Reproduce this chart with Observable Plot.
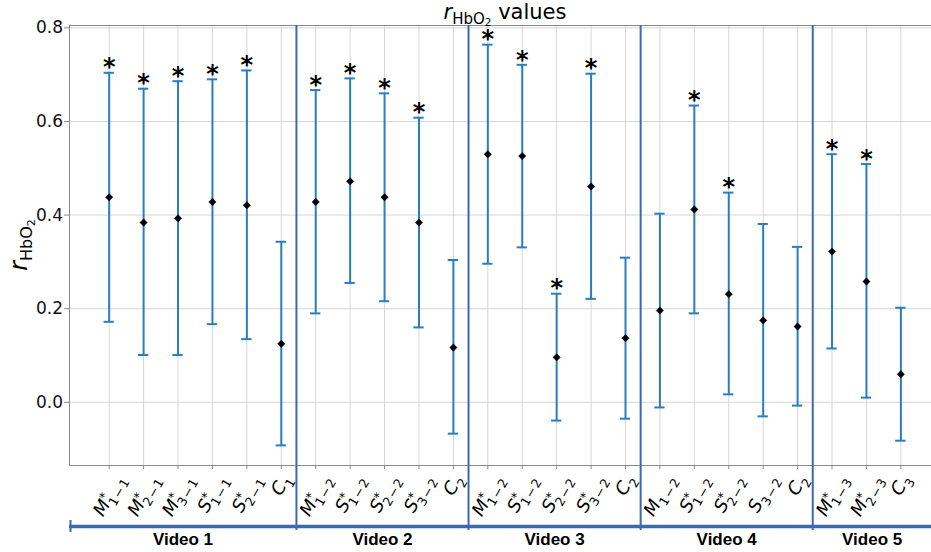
<!DOCTYPE html>
<html><head><meta charset="utf-8">
<script src="https://cdn.jsdelivr.net/npm/d3@7"></script>
<script src="https://cdn.jsdelivr.net/npm/@observablehq/plot@0.6"></script>
<style>body{margin:0;background:#fff} svg{display:block}</style>
</head><body><div id="chart"></div>
<script>
// ---- data ----
const groups = ["Video 1", "Video 2", "Video 3", "Video 4", "Video 5"];
const groupSizes = [6, 5, 5, 5, 3];
const labels = [
  "M*_1−1", "M*_2−1", "M*_3−1", "S*_1−1", "S*_2−1", "C_1",
  "M*_1−2", "S*_1−2", "S*_2−2", "S*_3−2", "C_2",
  "M*_1−2", "S*_1−2", "S*_2−2", "S*_3−2", "C_2",
  "M_1−2", "S*_1−2", "S*_2−2", "S_3−2", "C_2",
  "M*_1−3", "M*_2−3", "C_3"
];
const means = [0.438, 0.384, 0.393, 0.428, 0.421, 0.125,
  0.428, 0.472, 0.438, 0.384, 0.117,
  0.530, 0.526, 0.096, 0.461, 0.137,
  0.196, 0.412, 0.231, 0.175, 0.162,
  0.322, 0.258, 0.060];
const uppers = [0.704, 0.670, 0.686, 0.690, 0.709, 0.343,
  0.667, 0.692, 0.660, 0.608, 0.304,
  0.764, 0.721, 0.232, 0.702, 0.309,
  0.403, 0.634, 0.448, 0.381, 0.332,
  0.530, 0.509, 0.202];
const lowers = [0.172, 0.101, 0.101, 0.167, 0.135, -0.092,
  0.190, 0.255, 0.216, 0.160, -0.067,
  0.296, 0.331, -0.039, 0.221, -0.035,
  -0.011, 0.190, 0.017, -0.030, -0.007,
  0.115, 0.010, -0.082];
const yTicks = [0.0, 0.2, 0.4, 0.6, 0.8];

// ---- layout ----
const W = 931, H = 552, mL = 69, mR = 0, mT = 25, mB = 87;
const xDomain = [-1.153, 23.89];
const yDomain = [-0.135, 0.805];
const xpx = v => mL + (v - xDomain[0]) / (xDomain[1] - xDomain[0]) * (W - mL - mR);

const rows = labels.map((l, i) => ({i, label: l, mean: means[i], lo: lowers[i], hi: uppers[i], sig: l.includes("*")}));
const idx = rows.map(d => d.i);
const ends = d3.cumsum(groupSizes).map(c => c - 1);
const seps = ends.slice(0, -1).map(e => e + 0.44);
const bounds = [xDomain[0], ...seps, xDomain[1]];
const groupRows = groups.map((g, k) => ({g, x: (bounds[k] + bounds[k + 1]) / 2}));

const barColor = "#2a7dc0";
const sepColor = "#3b69b1";
const yGroupLine = -0.2653, ySepBottom = -0.274, yGroupText = -0.293;

const plot = Plot.plot({
  width: W, height: H,
  marginTop: mT, marginBottom: mB, marginLeft: mL, marginRight: mR,
  x: {type: "linear", domain: xDomain, axis: null},
  y: {domain: yDomain, axis: null},
  style: {fontFamily: "DejaVu Sans", fontSize: "17px", background: "white", overflow: "visible"},
  marks: [
    Plot.ruleX(idx, {stroke: "#d6d6d6", strokeWidth: 1}),
    Plot.ruleY(yTicks, {stroke: "#d6d6d6", strokeWidth: 1}),
    Plot.frame({stroke: "#8a8a8a", strokeWidth: 1}),
    Plot.axisY({ticks: yTicks, tickFormat: d => d.toFixed(1), tickSize: 5, tickPadding: 1.5, label: null, stroke: "#8a8a8a", fontSize: 17, fill: "#111"}),
    Plot.axisX({ticks: idx, tickSize: 4, tickFormat: () => "", label: null, stroke: "#8a8a8a"}),
    Plot.ruleX(seps, {y1: yDomain[1], y2: ySepBottom, stroke: sepColor, strokeWidth: 2}),
    Plot.ruleX(rows, {x: "i", y1: "lo", y2: "hi", stroke: barColor, strokeWidth: 2}),
    Plot.ruleY(rows, {y: "hi", x1: d => d.i - 0.15, x2: d => d.i + 0.15, stroke: barColor, strokeWidth: 2}),
    Plot.ruleY(rows, {y: "lo", x1: d => d.i - 0.15, x2: d => d.i + 0.15, stroke: barColor, strokeWidth: 2}),
    Plot.dot(rows, {x: "i", y: "mean", symbol: "diamond2", r: 3.3, fill: "black", stroke: "black", strokeWidth: 0.5}),
    Plot.text(rows.filter(d => d.sig), {x: "i", y: "hi", text: () => "*", dy: -5, fontSize: 24, fontWeight: "bold", fill: "black"}),
    Plot.ruleY([yGroupLine], {x1: xDomain[0], x2: xDomain[1], stroke: sepColor, strokeWidth: 3.5}),
    Plot.ruleX([xDomain[0] + 0.03], {y1: -0.2525, y2: -0.278, stroke: sepColor, strokeWidth: 2}),
    Plot.text(groupRows, {x: "x", y: () => yGroupText, text: "g", fontFamily: "Liberation Sans", fontWeight: "bold", fontSize: 17, fill: "black"})
  ]
});
document.getElementById("chart").append(plot);

const svg = d3.select(plot);

// x tick labels with math-style sub/superscripts
const lab = svg.append("g").attr("font-family", "DejaVu Sans").attr("font-size", 18).attr("fill", "black");
const ang = 60 * Math.PI / 180;
const labelTop = 473;
labels.forEach((l, i) => {
  const m = l.match(/^([A-Z])(\*?)_(.+)$/);
  const sub = m[3].replace("−", "\u200a−\u200a");
  const t = lab.append("text").attr("text-anchor", "start");
  t.append("tspan").attr("font-style", "italic").text(m[1]);
  if (m[2]) {
    t.append("tspan").attr("font-size", 12.5).attr("fill", "black").attr("dy", -5.5).text("*");
    t.append("tspan").attr("font-size", 12.5).attr("fill", "black").attr("dx", -6.5).attr("dy", 11).text(sub);
  } else {
    t.append("tspan").attr("font-size", 12.5).attr("fill", "black").attr("dy", 5.5).text(sub);
  }
  const b = t.node().getBBox();
  const lcx = b.x + b.width / 2, lcy = b.y + b.height / 2;
  const vert = b.width * Math.sin(ang) + b.height * Math.cos(ang) * 0.6;
  const cx = xpx(i) + 1.5, cy = labelTop + vert / 2;
  t.attr("transform", `translate(${cx},${cy}) rotate(-60) translate(${-lcx},${-lcy})`);
});

// title
const title = svg.append("text").attr("x", 505).attr("y", 19).attr("text-anchor", "middle")
  .attr("font-family", "DejaVu Sans").attr("font-size", 21).attr("fill", "black");
title.append("tspan").attr("font-style", "italic").text("r");
title.append("tspan").attr("font-size", 15).attr("dy", 5).text("HbO");
title.append("tspan").attr("font-size", 10.5).attr("dy", 2).text("2");
title.append("tspan").attr("dy", -7).text(" values");

// y label
const yl = svg.append("text").attr("transform", "translate(27,245) rotate(-90)").attr("text-anchor", "middle")
  .attr("font-family", "DejaVu Sans").attr("font-size", 24).attr("fill", "black");
yl.append("tspan").attr("font-style", "italic").text("r");
yl.append("tspan").attr("font-size", 16).attr("dy", 5).text("HbO");
yl.append("tspan").attr("font-size", 11).attr("dy", 3).text("2");
</script></body></html>
